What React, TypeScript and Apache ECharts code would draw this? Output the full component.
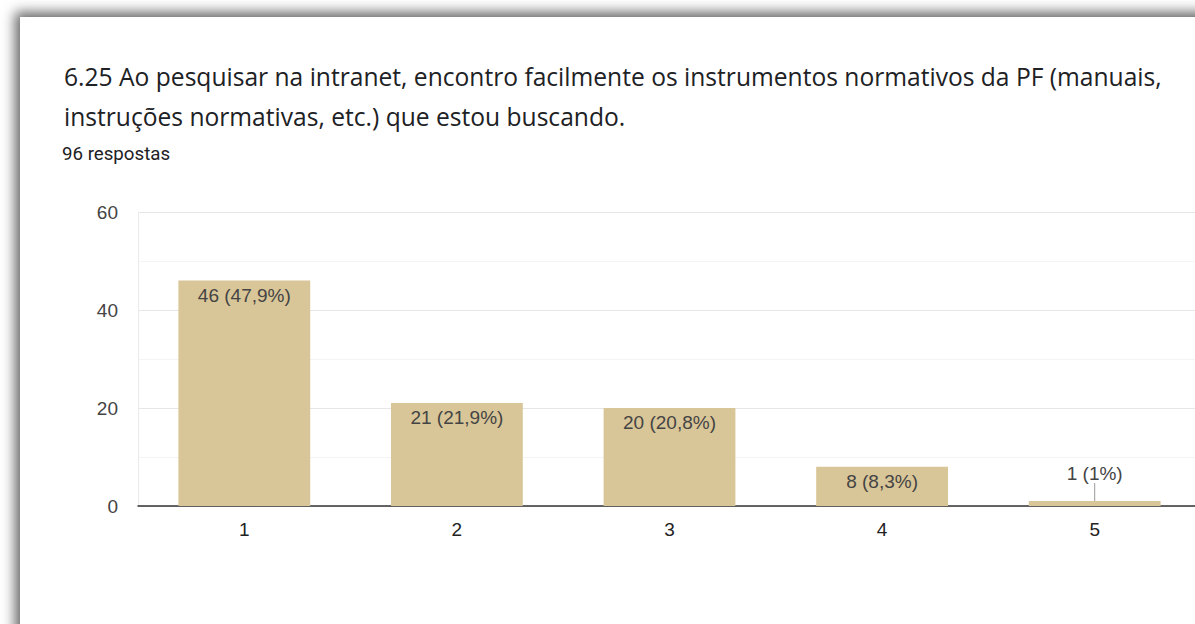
import React, { useEffect, useRef } from "react";
import * as echarts from "echarts";

const categories = ["1", "2", "3", "4", "5"];
const counts = [46, 21, 20, 8, 1];
const percents = ["47,9%", "21,9%", "20,8%", "8,3%", "1%"];
const yTicks = [0, 20, 40, 60];
const titleLines = [
  "6.25 Ao pesquisar na intranet, encontro facilmente os instrumentos normativos da PF (manuais,",
  "instruções normativas, etc.) que estou buscando.",
];
const subtitle = "96 respostas";

export default function App() {
  const ref = useRef<HTMLDivElement>(null);
  useEffect(() => {
    if (!ref.current) return;
    const chart = echarts.init(ref.current, undefined, { renderer: "svg" });
    chart.setOption({
      animation: false,
      title: [
        {
          text: titleLines.join("\n"),
          left: 59,
          top: 51,
          textStyle: {
            fontFamily: "Open Sans",
            fontSize: 24.6,
            fontWeight: "normal",
            color: "#202124",
            lineHeight: 40,
          },
        },
        {
          text: subtitle,
          left: 57,
          top: 139,
          textStyle: {
            fontFamily: "Roboto",
            fontSize: 18.7,
            fontWeight: "normal",
            color: "#202124",
          },
        },
      ],
      grid: { left: 138, right: 0, top: 212, bottom: 118, containLabel: false },
      xAxis: {
        type: "category",
        data: categories,
        axisLine: { show: true, lineStyle: { color: "#333333", width: 1.5 } },
        axisTick: { show: false },
        axisLabel: {
          color: "#222222",
          fontFamily: "Liberation Sans",
          fontSize: 19,
          margin: 14,
        },
      },
      yAxis: {
        type: "value",
        min: yTicks[0],
        max: yTicks[yTicks.length - 1],
        interval: 20,
        axisLine: { show: true, lineStyle: { color: "#ebebeb", width: 1 } },
        axisTick: { show: false },
        axisLabel: {
          color: "#444444",
          fontFamily: "Liberation Sans",
          fontSize: 19,
          margin: 20,
        },
        splitLine: { show: true, lineStyle: { color: "#e6e6e6", width: 1 } },
        minorTick: { show: false, splitNumber: 2 },
        minorSplitLine: { show: true, lineStyle: { color: "#f4f4f4", width: 1 } },
      },
      series: [
        {
          type: "bar",
          barWidth: "62%",
          itemStyle: { color: "#d9c698" },
          data: counts.map((v) =>
            v < 5
              ? {
                  value: v,
                  label: { position: "top", distance: 2 },
                  labelLine: { show: true, lineStyle: { color: "#999999", width: 1 } },
                }
              : { value: v }
          ),
          label: {
            show: true,
            position: "insideTop",
            distance: 5,
            color: "#444444",
            fontFamily: "Liberation Sans",
            fontSize: 19,
            formatter: (p: any) => `${counts[p.dataIndex]} (${percents[p.dataIndex]})`,
          },
          labelLayout: (p: any) => (counts[p.dataIndex] < 5 ? { dy: -16 } : {}),
          labelLine: { show: false },
        },
      ],
    });
    return () => chart.dispose();
  }, []);

  return (
    <div
      style={{
        position: "fixed",
        left: 0,
        top: 0,
        width: 1195,
        height: 624,
        overflow: "hidden",
        background: "#ffffff",
      }}
    >
      <div
        style={{
          position: "absolute",
          left: 20,
          top: 17,
          width: 1300,
          height: 800,
          background: "#ffffff",
          boxShadow: "0 0 12px 5px rgba(0,0,0,0.6)",
        }}
      />
      <div
        ref={ref}
        style={{ position: "absolute", left: 0, top: 0, width: 1201, height: 624 }}
      />
    </div>
  );
}
